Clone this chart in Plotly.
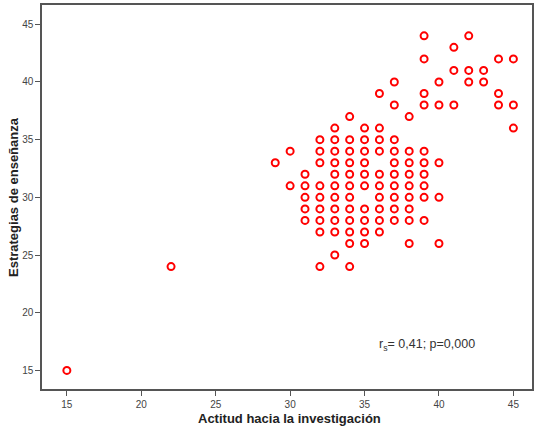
import plotly.graph_objects as go

# Data (Actitud, Estrategias)
actitud = [
    15,
    22, 32, 34,
    33,
    34, 35, 38, 40,
    32, 33, 34, 35, 36,
    31, 32, 33, 34, 35, 36, 37, 38, 39,
    31, 32, 33, 34, 35, 36, 37, 38,
    31, 32, 33, 34, 36, 37, 38, 39, 40,
    30, 31, 32, 33, 34, 35, 36, 37, 38, 39,
    31, 33, 34, 35, 36, 37, 38, 39,
    29, 32, 33, 34, 35, 37, 38, 39, 40,
    30, 32, 33, 34, 35, 36, 37, 38, 39,
    32, 33, 34, 35, 36, 37,
    33, 35, 36, 45,
    34, 38,
    37, 39, 40, 41, 44, 45,
    36, 39, 44,
    37, 40, 42, 43,
    41, 42, 43,
    39, 44, 45,
    41,
    39, 42,
]
estrategias = [
    15,
    24, 24, 24,
    25,
    26, 26, 26, 26,
    27, 27, 27, 27, 27,
    28, 28, 28, 28, 28, 28, 28, 28, 28,
    29, 29, 29, 29, 29, 29, 29, 29,
    30, 30, 30, 30, 30, 30, 30, 30, 30,
    31, 31, 31, 31, 31, 31, 31, 31, 31, 31,
    32, 32, 32, 32, 32, 32, 32, 32,
    33, 33, 33, 33, 33, 33, 33, 33, 33,
    34, 34, 34, 34, 34, 34, 34, 34, 34,
    35, 35, 35, 35, 35, 35,
    36, 36, 36, 36,
    37, 37,
    38, 38, 38, 38, 38, 38,
    39, 39, 39,
    40, 40, 40, 40,
    41, 41, 41,
    42, 42, 42,
    43,
    44, 44,
]
tick_vals = [15, 20, 25, 30, 35, 40, 45]
x_title = "Actitud hacia la investigación"
y_title = "Estrategias de enseñanza"
note = "r<sub>s</sub>= 0,41; p=0,000"

FONT = "Arial, Liberation Sans, sans-serif"
W, H = 534, 430
pl, pr, pt, pb = 42, 532, 5, 389  # plot area edges in pixels

fig = go.Figure()
fig.add_trace(go.Scatter(
    x=actitud, y=estrategias, mode="markers",
    marker=dict(symbol="circle-open", size=7, color="#ff0000",
                line=dict(width=2, color="#ff0000")),
    hoverinfo="x+y", showlegend=False,
))

axis_common = dict(
    showline=True, mirror=True, linecolor="#555555", linewidth=1.5,
    ticks="outside", ticklen=5, tickcolor="#555555", tickwidth=1,
    showgrid=False, zeroline=False, tickvals=tick_vals, automargin=False,
    tickfont=dict(family=FONT, size=10, color="#444444"),
)

def px_x(v):
    return (v - pl) / (pr - pl)

def px_y(v):
    return (pb - v) / (pb - pt)

fig.update_layout(
    width=W, height=H,
    margin=dict(l=pl, r=W - pr, t=pt, b=H - pb),
    paper_bgcolor="white", plot_bgcolor="white",
    xaxis=dict(range=[13.33, 46.25], **axis_common),
    yaxis=dict(range=[13.39, 46.67], **axis_common),
    annotations=[
        dict(x=39.2, y=17.2, xref="x", yref="y", text=note, showarrow=False,
             xanchor="center", yanchor="middle",
             font=dict(family=FONT, size=12.5, color="#333333")),
        dict(x=px_x(289), y=px_y(418), xref="paper", yref="paper",
             xanchor="center", yanchor="middle", text="<b>" + x_title + "</b>",
             showarrow=False, font=dict(family=FONT, size=13, color="#222222")),
        dict(x=px_x(13), y=px_y(197), xref="paper", yref="paper",
             xanchor="center", yanchor="middle", text="<b>" + y_title + "</b>",
             textangle=-90, showarrow=False,
             font=dict(family=FONT, size=13, color="#222222")),
    ],
)

fig.write_html("out.html", config={"displayModeBar": False},
               post_script="document.body.style.margin='0';")
